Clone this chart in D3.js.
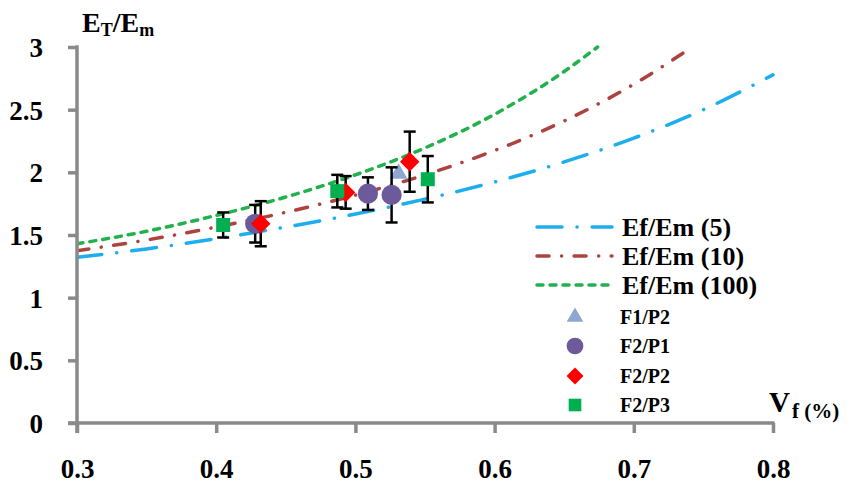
<!DOCTYPE html>
<html><head><meta charset="utf-8">
<script src="https://cdn.jsdelivr.net/npm/d3@7"></script>
<style>
body{margin:0;background:#fff;}
text{font-family:"Liberation Serif","Times New Roman",serif;font-weight:bold;fill:#000;}
</style></head>
<body><svg id="c" width="859" height="488"></svg>
<script>
// ---- data ----
const xTicks = [0.3,0.4,0.5,0.6,0.7,0.8];
const yTicks = [0,0.5,1,1.5,2,2.5,3];
const yTickLabels = ["0","0.5","1","1.5","2","2.5","3"];
const xTickLabels = ["0.3","0.4","0.5","0.6","0.7","0.8"];

const curveVf5   = [0.30,0.35,0.40,0.45,0.50,0.55,0.60,0.65,0.70,0.75,0.80];
const curveE5    = [1.322,1.389,1.471,1.563,1.667,1.786,1.923,2.083,2.273,2.500,2.778];
const curveVf10  = [0.30,0.35,0.40,0.45,0.50,0.55,0.60,0.65,0.70,0.742];
const curveE10   = [1.375,1.460,1.563,1.681,1.818,1.980,2.174,2.410,2.703,3.0];
const curveVf100 = [0.30,0.35,0.40,0.45,0.50,0.55,0.60,0.65,0.674];
const curveE100  = [1.43,1.530,1.656,1.803,1.980,2.195,2.463,2.805,3.0];
const curveNames = ["Ef/Em (5)","Ef/Em (10)","Ef/Em (100)"];

const f1p2Vf = [0.531]; const f1p2E = [1.99]; const f1p2Err = [0];
const f2p1Vf = [0.428,0.509,0.526]; const f2p1E = [1.59,1.83,1.82]; const f2p1Err = [0.15,0.13,0.22];
const f2p2Vf = [0.432,0.493,0.539]; const f2p2E = [1.59,1.84,2.085]; const f2p2Err = [0.18,0.13,0.24];
const f2p3Vf = [0.405,0.487,0.552]; const f2p3E = [1.58,1.85,1.945]; const f2p3Err = [0.10,0.13,0.185];
const pointNames = ["F1/P2","F2/P1","F2/P2","F2/P3"];

// ---- drawing ----
const svg = d3.select("#c");
const x = d3.scaleLinear().domain([0.3,0.8]).range([77,773]);
const y = d3.scaleLinear().domain([0,3]).range([423,47]);
const axisColor = "#8a8a8a";

svg.append("defs").append("clipPath").attr("id","clip")
  .append("rect").attr("x",77).attr("y",44).attr("width",700).attr("height",380);

const curveStyles = [
  {c:"#1eaeee", dash:"25,15,0.1,15"},
  {c:"#ad433f", dash:"12,12.5,0.1,12.5"},
  {c:"#22b14c", dash:"6,7"}
];
const curves = [[curveVf5,curveE5],[curveVf10,curveE10],[curveVf100,curveE100]];
const line = d3.line().x(d=>x(d[0])).y(d=>y(d[1])).curve(d3.curveMonotoneX);
const gc = svg.append("g").attr("clip-path","url(#clip)");
curves.forEach((cv,i)=>{
  const pts = cv[0].map((v,j)=>[v,cv[1][j]]);
  gc.append("path").attr("d",line(pts)).attr("fill","none")
    .attr("stroke",curveStyles[i].c).attr("stroke-width",3.5)
    .attr("stroke-linecap","round").attr("stroke-dasharray",curveStyles[i].dash);
});

// axes
const gx = svg.append("g").attr("transform","translate(0,423)")
  .call(d3.axisBottom(x).tickValues(xTicks).tickFormat((d,i)=>xTickLabels[i]).tickSize(10).tickPadding(26));
const gy = svg.append("g").attr("transform","translate(77,0)")
  .call(d3.axisLeft(y).tickValues(yTicks).tickFormat((d,i)=>yTickLabels[i]).tickSize(9).tickPadding(25));
[gx,gy].forEach(g=>{
  g.select(".domain").remove();
  g.selectAll(".tick line").attr("stroke",axisColor).attr("stroke-width",3.5);
  g.selectAll(".tick text").attr("font-size",27).attr("font-family",'"Liberation Serif",serif').attr("font-weight","bold").attr("fill","#000");
});
gy.selectAll(".tick text").attr("dy","0.35em");
svg.append("line").attr("x1",68).attr("x2",774.5).attr("y1",y(0)).attr("y2",y(0)).attr("stroke",axisColor).attr("stroke-width",3.5);
svg.append("line").attr("x1",x(0.3)).attr("x2",x(0.3)).attr("y1",y(3)-1.75).attr("y2",y(0)+10).attr("stroke",axisColor).attr("stroke-width",3.5);

// points
const sym = {
  tri: d3.symbol().type(d3.symbolTriangle),
  circ: d3.symbol().type(d3.symbolCircle),
  dia: d3.symbol().type(d3.symbolSquare),
  sq: d3.symbol().type(d3.symbolSquare)
};
const series = [
  {vf:f1p2Vf,e:f1p2E,err:f1p2Err,color:"#8ea7d2",shape:"tri",size:140,lsize:120,rot:0},
  {vf:f2p1Vf,e:f2p1E,err:f2p1Err,color:"#6c5a9a",shape:"circ",size:320,lsize:220,rot:0},
  {vf:f2p2Vf,e:f2p2E,err:f2p2Err,color:"#ff0000",shape:"dia",size:190,lsize:145,rot:45},
  {vf:f2p3Vf,e:f2p3E,err:f2p3Err,color:"#00b050",shape:"sq",size:196,lsize:160,rot:0}
];
const gp = svg.append("g");
series.forEach(s=>{
  const g = gp.append("g");
  s.vf.forEach((v,j)=>{
    const err = s.err[j];
    if(err>0){
      const cx = x(v), y1 = y(s.e[j]+err), y2 = y(s.e[j]-err);
      g.append("line").attr("x1",cx).attr("x2",cx).attr("y1",y1).attr("y2",y2).attr("stroke","#000").attr("stroke-width",2.5);
      [y1,y2].forEach(yy=>g.append("line").attr("x1",cx-6).attr("x2",cx+6).attr("y1",yy).attr("y2",yy).attr("stroke","#000").attr("stroke-width",2.5));
    }
  });
  s.vf.forEach((v,j)=>{
    g.append("path").attr("d",sym[s.shape].size(s.size)())
      .attr("transform",`translate(${x(v)},${y(s.e[j])}) rotate(${s.rot})`).attr("fill",s.color);
  });
});

// legend
const lg = svg.append("g");
const legendRowsY = [227,256,285];
curveNames.forEach((n,i)=>{
  lg.append("line").attr("x1",537).attr("x2",612).attr("y1",legendRowsY[i]).attr("y2",legendRowsY[i])
    .attr("stroke",curveStyles[i].c).attr("stroke-width",3.5).attr("stroke-linecap","round").attr("stroke-dasharray",curveStyles[i].dash);
  lg.append("text").attr("x",622).attr("y",legendRowsY[i]).attr("dy","0.35em").attr("font-size",26).text(n);
});
const markRowsY = [317,346,376,405];
pointNames.forEach((n,i)=>{
  const s = series[i];
  lg.append("path").attr("d",sym[s.shape].size(s.lsize)())
    .attr("transform",`translate(575,${markRowsY[i]}) rotate(${s.rot})`).attr("fill",s.color);
  lg.append("text").attr("x",620).attr("y",markRowsY[i]).attr("dy","0.35em").attr("font-size",20).text(n);
});

// axis titles
const ty = svg.append("text").attr("x",82).attr("y",32).attr("font-size",28);
ty.append("tspan").text("E");
ty.append("tspan").attr("font-size",18).attr("dy",4).text("T");
ty.append("tspan").attr("dy",-4).text("/E");
ty.append("tspan").attr("font-size",18).attr("dy",4).text("m");
const tx = svg.append("text").attr("x",769).attr("y",412).attr("font-size",29);
tx.append("tspan").text("V");
tx.append("tspan").attr("font-size",21).attr("dy",6).attr("dx",2).text("f (%)");
</script></body></html>
